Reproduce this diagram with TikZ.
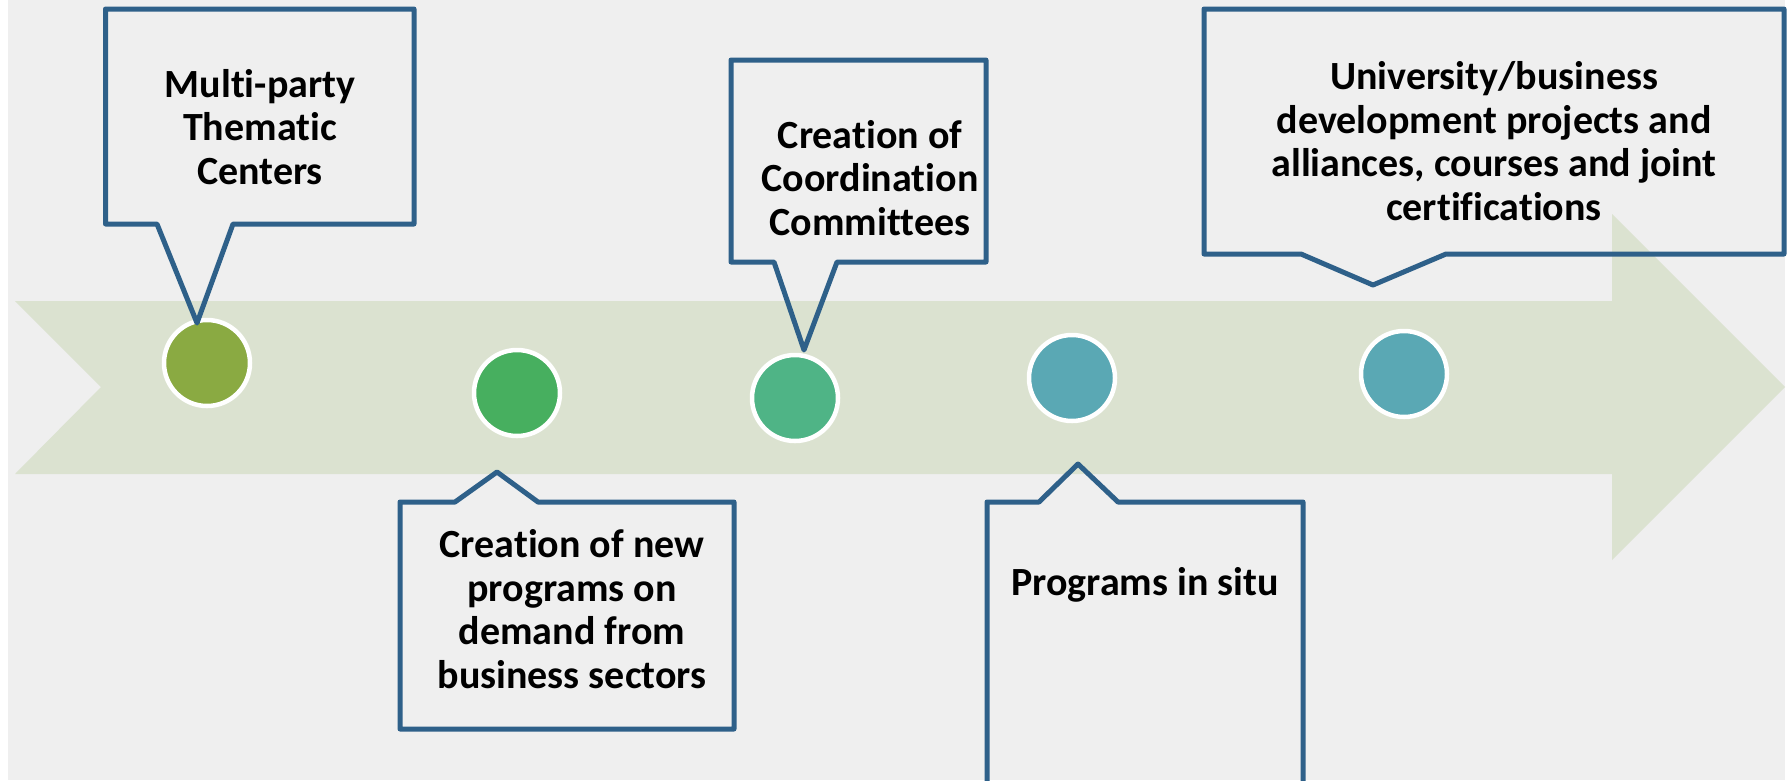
\documentclass[tikz,border=0pt]{standalone}
\usepackage{fontspec}
\setmainfont{Carlito}[Ligatures=NoCommon]
\definecolor{bgc}{HTML}{EFEFEF}
\definecolor{bandc}{HTML}{DBE2D0}
\definecolor{linec}{HTML}{2E6089}
\definecolor{dotA}{HTML}{8AAA42}
\definecolor{dotB}{HTML}{47AF5F}
\definecolor{dotC}{HTML}{4FB486}
\definecolor{dotD}{HTML}{5AA8B4}
\tikzset{
  dot/.style={circle,draw=white,line width=4.5pt,minimum size=86pt,inner sep=0pt},
  callout/.style={draw=linec,line width=5pt,line join=round},
  label/.style={align=center,inner sep=0pt,anchor=base,font=\bfseries\fontsize{40}{43.5}\selectfont}
}
\begin{document}
\begin{tikzpicture}[x=1pt,y=-1pt]
\useasboundingbox (0,0) rectangle (1787,780);
\fill[white] (0,0) rectangle (1787,780);
\fill[bgc] (8,0) rectangle (1785,780);
% band arrow
\fill[bandc] (15,301) -- (1612,301) -- (1612,214) -- (1785,387) -- (1612,560)
  -- (1612,474) -- (15,474) -- (101,387) -- cycle;
% dots
\node[dot,fill=dotA] (c1) at (207,363) {};
\node[dot,fill=dotB] (c2) at (517,393) {};
\node[dot,fill=dotC] (c3) at (795,398) {};
\node[dot,fill=dotD] (c4) at (1072,378) {};
\node[dot,fill=dotD] (c5) at (1404,374) {};
% callout tips
\coordinate (p1) at (197,323);
\coordinate (p2) at (497,472);
\coordinate (p3) at (804,350);
\coordinate (p4) at (1078,464);
\coordinate (p5) at (1373,285);
% callouts
\draw[callout] (157,224) -- (p1) -- (233,224) -- (414,224) -- (414,9) -- (105.5,9) -- (105.5,224) -- cycle;
\draw[callout] (455,502) -- (p2) -- (538,502) -- (734,502) -- (734,729) -- (400,729) -- (400,502) -- cycle;
\draw[callout] (774,262) -- (p3) -- (837,262) -- (986,262) -- (986,60) -- (731,60) -- (731,262) -- cycle;
\draw[callout] (1039,502) -- (p4) -- (1118,502) -- (1303,502) -- (1303,800) -- (987,800) -- (987,502) -- cycle;
\draw[callout] (1301,254) -- (p5) -- (1446,254) -- (1784,254) -- (1784,9) -- (1204,9) -- (1204,254) -- cycle;
% texts (anchor base = baseline of last line)
\node[label] (t1) at (260,184) {Multi-party\\Thematic\\Centers};
\node[label] (t2) at (572,688) {Creation of new\\programs on\\demand from\\business sectors};
\node[label] (t3) at (870,235) {Creation of\\Coordination\\Committees};
\node[label] (t4) at (1145,595) {Programs in situ};
\node[label] (t5) at (1494,220) {University/business\\development projects and\\alliances, courses and joint\\certifications};
\end{tikzpicture}
\end{document}
